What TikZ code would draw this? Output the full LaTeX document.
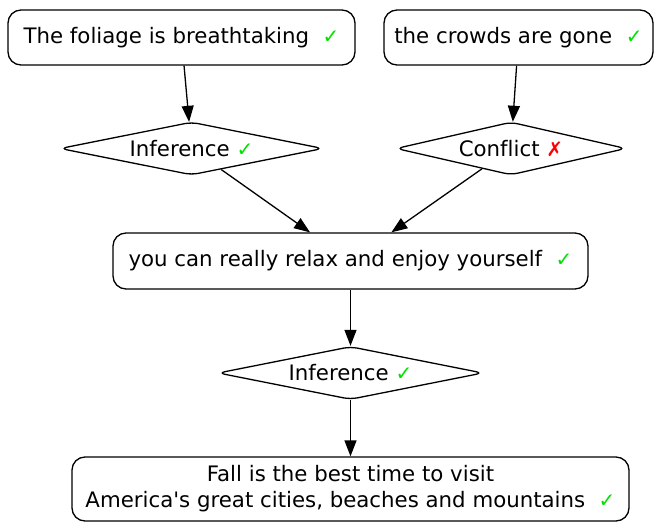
\documentclass[tikz,border=0pt]{standalone}
\usepackage{fontspec}
\setmainfont{DejaVu Sans}[Ligatures={TeXOff,CommonOff}]
\usetikzlibrary{shapes.geometric,arrows.meta}
\definecolor{okgreen}{RGB}{0,225,0}
\newcommand{\okmark}{{\fontsize{20}{20}\selectfont\color{okgreen}✓}}
\newcommand{\badmark}{{\fontsize{20}{20}\selectfont\color{red}✗}}

\begin{document}
\begin{tikzpicture}[x=1pt, y=-1pt, line width=1.3pt,
        >={Triangle[length=16pt, width=12pt]},
        claim/.style={draw, rounded corners=13pt, align=center, inner sep=0pt,
                font=\fontsize{21.3}{26}\selectfont},
        link/.style={draw, diamond, aspect=5, inner sep=0pt, rounded corners=7pt,
                minimum height=53pt, font=\fontsize{21.3}{26}\selectfont}]
        \useasboundingbox (0, 0) rectangle (654, 522);
        \node [claim, minimum width=347pt, minimum height=55pt] (LT) at (181.5, 37.5) {The foliage is breathtaking\ \ \okmark}; 
        \node [claim, minimum width=269pt, minimum height=55pt] (RT) at (518.5, 37.5) {the crowds are gone\ \ \okmark}; 
        \node [link, minimum width=263pt] (LM) at (191.5, 148.5) {Inference \okmark}; 
        \node [link, minimum width=230pt] (RM) at (511, 148.5) {Conflict \badmark}; 
        \node [claim, minimum width=475pt, minimum height=56pt] (C) at (350.5, 261) {you can really relax and enjoy yourself\ \ \okmark}; 
        \node [link, minimum width=265pt] (CM) at (350.5, 373) {Inference \okmark}; 
        \node [claim, minimum width=557pt, minimum height=64pt] (B) at (350.5, 489) {Fall is the best time to visit\\America's great cities, beaches and mountains\ \ \okmark}; 
        \draw [->] (LT) -- (LM); 
        \draw [->] (RT) -- (RM); 
        \draw [->] (LM) -- (C); 
        \draw [->] (RM) -- (C); 
        \draw [->] (C) -- (CM); 
        \draw [->] (CM) -- (B); 
\end{tikzpicture}
\end{document}
